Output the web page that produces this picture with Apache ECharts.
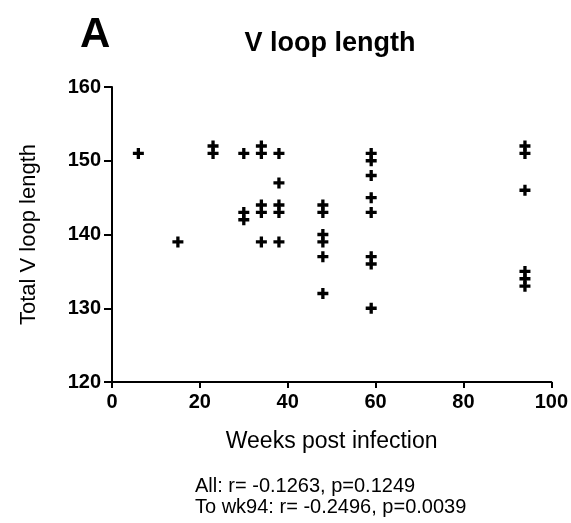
<!DOCTYPE html>
<html>
<head>
<meta charset="utf-8">
<script src="https://cdn.jsdelivr.net/npm/echarts@6/dist/echarts.min.js"></script>
<style>
  html, body { margin: 0; padding: 0; background: #fff; }
  #chart { width: 571px; height: 523px; }
</style>
</head>
<body>
<div id="chart"></div>
<script>
// weeks post infection and total V loop length, one entry per sequence
var weeks = [6, 15, 23, 23, 30, 30, 30, 34, 34, 34, 34, 34, 38, 38, 38, 38, 38,
	48, 48, 48, 48, 48, 48, 59, 59, 59, 59, 59, 59, 59, 59, 94, 94, 94, 94, 94, 94];
var loopLength = [151, 139, 152, 151, 151, 143, 142, 152, 151, 144, 143, 139, 151, 147, 144, 143, 139,
	144, 143, 140, 139, 137, 132, 151, 150, 148, 145, 143, 137, 136, 130, 152, 151, 146, 135, 134, 133];
var xTicks = [0, 20, 40, 60, 80, 100];
var yTicks = [120, 130, 140, 150, 160];
var statLines = ['All: r= -0.1263, p=0.1249', 'To wk94: r= -0.2496, p=0.0039'];

var font = 'Arial, "Liberation Sans", sans-serif';
var plus = 'path://M3.5,0H6.5V3.5H10V6.5H6.5V10H3.5V6.5H0V3.5H3.5Z';

var points = [];
for (var i = 0; i < weeks.length; i++) {
	points.push([weeks[i], loopLength[i]]);
}

var chart = echarts.init(document.getElementById('chart'), null, { renderer: 'canvas' });
var option = {
	backgroundColor: '#fff',
	animation: false,
	grid: { left: 112, top: 87, right: 18, bottom: 141 },
	xAxis: {
		type: 'value',
		min: xTicks[0],
		max: xTicks[xTicks.length - 1],
		interval: 20,
		name: 'Weeks post infection',
		nameLocation: 'middle',
		nameGap: 48,
		nameTextStyle: { fontFamily: font, fontSize: 23, color: '#000' },
		axisLine: { lineStyle: { color: '#000', width: 2 } },
		axisTick: { length: 6, lineStyle: { color: '#000', width: 2 } },
		axisLabel: { fontFamily: font, fontSize: 20, fontWeight: 'bold', color: '#000', margin: 10 },
		splitLine: { show: false }
	},
	yAxis: {
		type: 'value',
		min: yTicks[0],
		max: yTicks[yTicks.length - 1],
		interval: 10,
		name: 'Total V loop length',
		nameLocation: 'middle',
		nameRotate: 90,
		nameGap: 72,
		nameTextStyle: { fontFamily: font, fontSize: 22, color: '#000' },
		axisLine: { show: true, lineStyle: { color: '#000', width: 2 } },
		axisTick: { show: true, length: 8, lineStyle: { color: '#000', width: 2 } },
		axisLabel: { fontFamily: font, fontSize: 20, fontWeight: 'bold', color: '#000', margin: 11 },
		splitLine: { show: false }
	},
	graphic: [
		{ type: 'text', left: 80, top: 14, style: { text: 'A', font: 'bold 42px ' + font, fill: '#000' } },
		{ type: 'text', x: 330, y: 44, style: { text: 'V loop length', font: 'bold 27px ' + font, fill: '#000', textAlign: 'center', textVerticalAlign: 'middle' } },
		{ type: 'text', x: 195, y: 486, style: { text: statLines[0], font: '20px ' + font, fill: '#000', textVerticalAlign: 'middle' } },
		{ type: 'text', x: 195, y: 507, style: { text: statLines[1], font: '20px ' + font, fill: '#000', textVerticalAlign: 'middle' } }
	],
	series: [{
		type: 'scatter',
		data: points,
		symbol: plus,
		symbolSize: 11,
		itemStyle: { color: '#000', opacity: 1 }
	}]
};
chart.setOption(option);
</script>
</body>
</html>
